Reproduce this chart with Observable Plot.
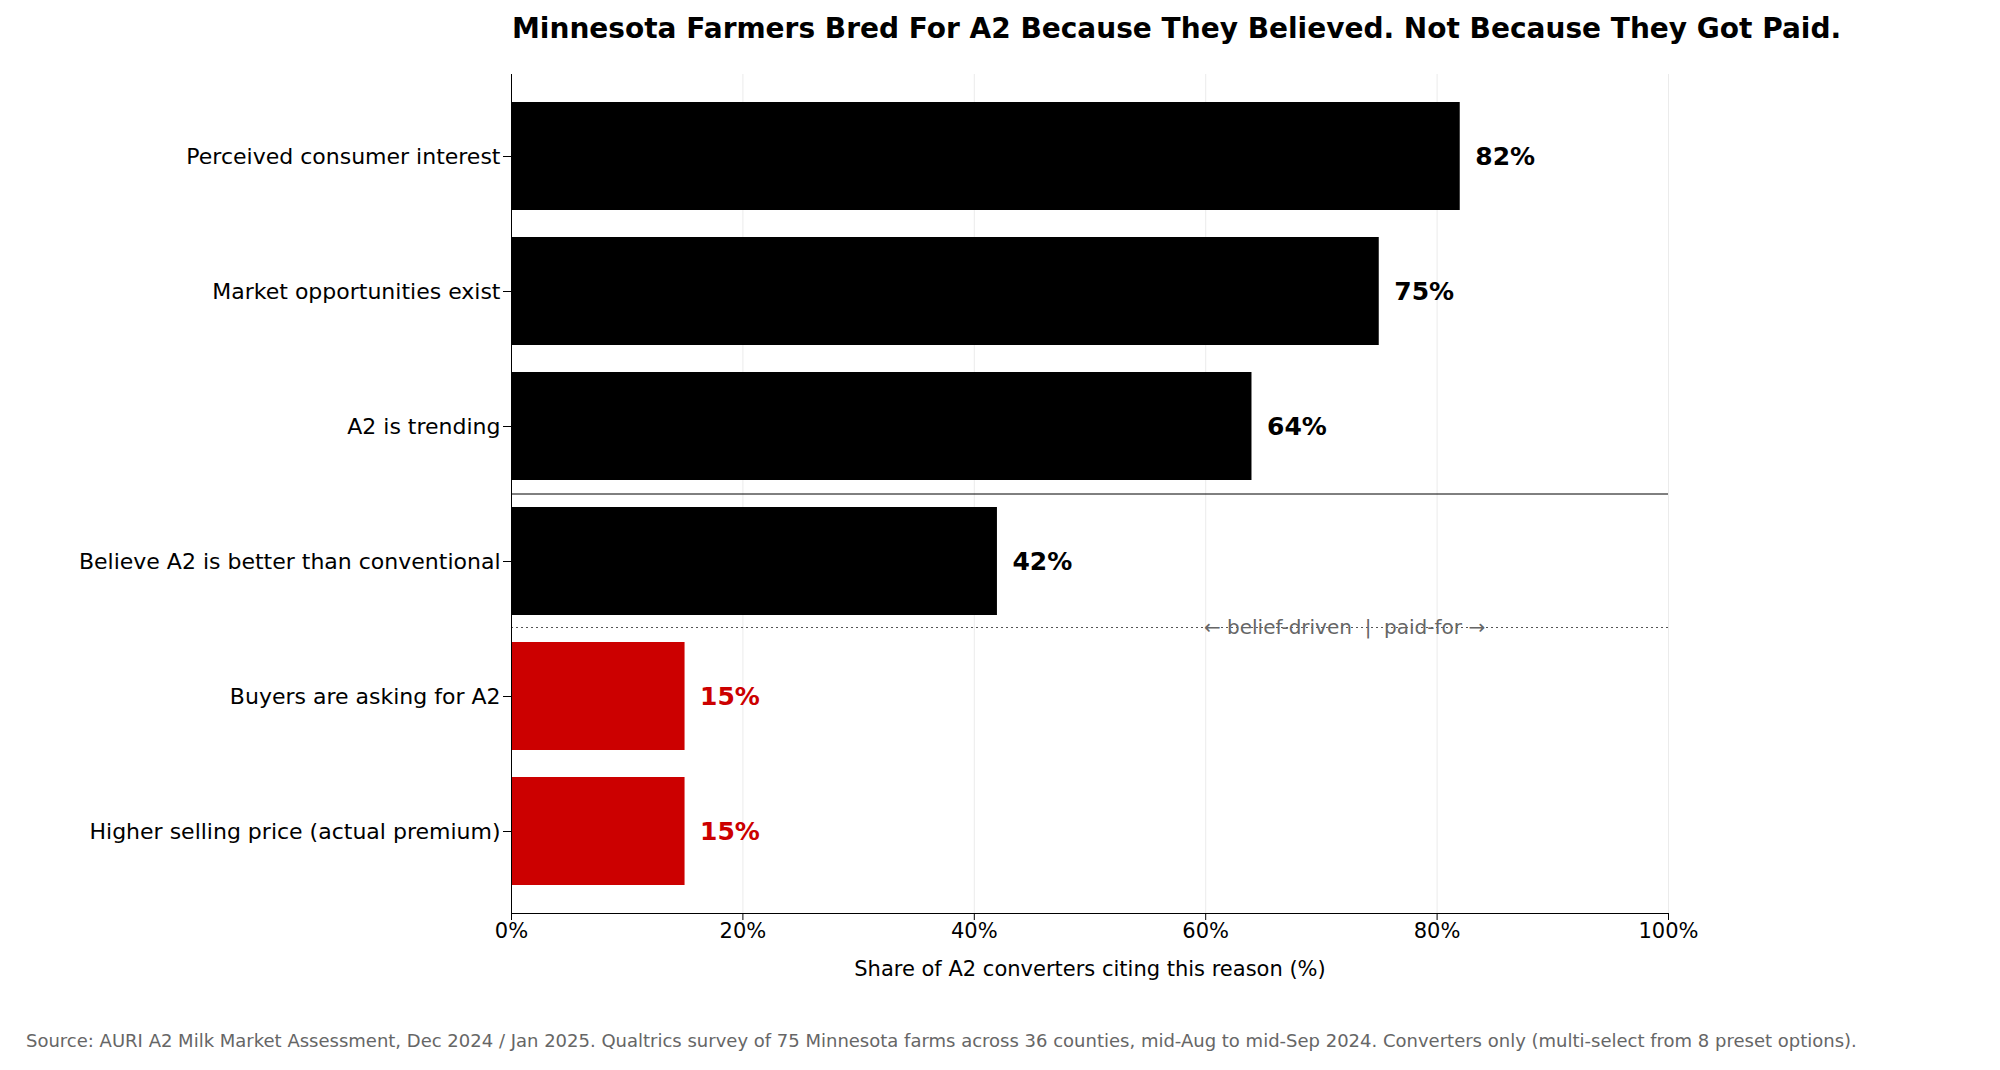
<!DOCTYPE html>
<html><head><meta charset="utf-8">
<script src="https://cdn.jsdelivr.net/npm/d3@7"></script>
<script src="https://cdn.jsdelivr.net/npm/@observablehq/plot@0.6"></script>
<style>
body{margin:0;background:#fff;font-family:"DejaVu Sans",sans-serif;}
#wrap{position:relative;width:2000px;height:1070px;}
#title{position:absolute;left:512px;top:12px;font-size:28px;font-weight:bold;color:#000;white-space:nowrap;}
#cap{position:absolute;left:26px;top:1030px;font-size:18px;color:#666;white-space:nowrap;}
</style></head>
<body><div id="wrap"><div id="title">Minnesota Farmers Bred For A2 Because They Believed. Not Because They Got Paid.</div><div id="chart"></div><div id="cap">Source: AURI A2 Milk Market Assessment, Dec 2024 / Jan 2025. Qualtrics survey of 75 Minnesota farms across 36 counties, mid-Aug to mid-Sep 2024. Converters only (multi-select from 8 preset options).</div></div>
<script>
const reasons = ["Perceived consumer interest","Market opportunities exist","A2 is trending","Believe A2 is better than conventional","Buyers are asking for A2","Higher selling price (actual premium)"];
const shares = [82,75,64,42,15,15];
const groups = ["belief","belief","belief","belief","paid","paid"];
const xTicks = [0,20,40,60,80,100];
const data = reasons.map((r,i)=>({reason:r,value:shares[i],group:groups[i]}));
const colors = {belief:"#000000", paid:"#cc0000"};
const plot = Plot.plot({
  width:2000, height:1000,
  marginLeft:511, marginRight:332, marginTop:74, marginBottom:87,
  style:{fontFamily:"DejaVu Sans, sans-serif", fontSize:"21px", background:"#fff"},
  x:{domain:[0,100], ticks:xTicks, tickFormat:d=>d+"%", label:null},
  y:{domain:reasons, padding:0.2, label:null},
  marks:[
    Plot.gridX(xTicks,{stroke:"#ddd", strokeOpacity:0.6}),
    Plot.barX(data,{y:"reason", x:"value", fill:d=>colors[d.group]}),
    Plot.text(data,{y:"reason", x:"value", text:d=>d.value+"%", dx:15, textAnchor:"start", fontWeight:"bold", fontSize:25, fill:d=>colors[d.group]}),
    Plot.ruleY([0],{y:()=>reasons[3], x1:0, x2:100, dy:66, stroke:"#555", strokeDasharray:"2,3", strokeWidth:1.2}),
    Plot.text(["← belief-driven  |  paid-for →"],{x:72, y:()=>reasons[3], dy:66, fill:"#666", fontSize:20}),
    Plot.axisX({ticks:xTicks, tickFormat:d=>d+"%", fontSize:21, tickSize:7, label:"Share of A2 converters citing this reason (%)", labelAnchor:"center", labelOffset:62, labelArrow:"none"}),
    Plot.axisY({fontSize:22, tickSize:8, label:null}),
    Plot.ruleX([0]),
    Plot.ruleY([0],{y:null, frameAnchor:"bottom"}),
    Plot.frame({anchor:"bottom"})
  ]
});
document.getElementById("chart").appendChild(plot);
</script></body></html>
